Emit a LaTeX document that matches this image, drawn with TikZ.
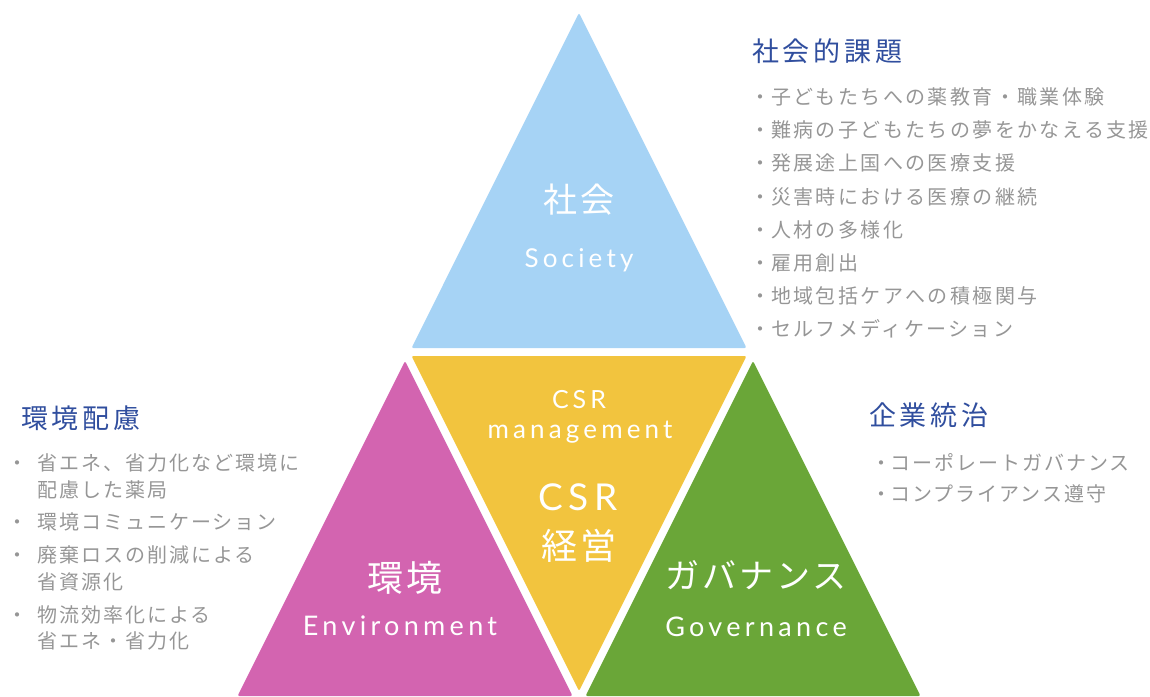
\documentclass[tikz,border=0pt]{standalone}
\usepackage{fontspec}
\setmainfont{Noto Sans CJK JP}
\newfontfamily\jpL[LetterSpace=10]{Noto Sans CJK JP}
\newfontfamily\jpW[LetterSpace=12]{Noto Sans CJK JP}
\newfontfamily\jpH[LetterSpace=14]{Noto Sans CJK JP}
\newfontfamily\jpT[LetterSpace=8]{Noto Sans CJK JP}
\newfontfamily\latT[LetterSpace=16]{Lato}
\definecolor{skyb}{RGB}{166,211,245}
\definecolor{csry}{RGB}{242,196,62}
\definecolor{envp}{RGB}{211,100,176}
\definecolor{govg}{RGB}{106,166,56}
\definecolor{headb}{RGB}{48,78,158}
\definecolor{txtg}{RGB}{150,150,150}
\tikzset{
  tri/.style={rounded corners=2pt},
  jitem/.style={anchor=base west, inner sep=0pt, text=txtg, font=\jpL\fontsize{20pt}{24pt}\selectfont},
  jitemw/.style={jitem, font=\jpW\fontsize{20pt}{24pt}\selectfont},
  jbul/.style={anchor=base, inner sep=0pt, text=txtg, font=\jpL\fontsize{20pt}{24pt}\selectfont},
  jhead/.style={anchor=base west, inner sep=0pt, text=headb, font=\jpH\fontsize{27pt}{30pt}\selectfont},
  tlabj/.style={anchor=base, inner sep=0pt, text=white},
  tlabl/.style={anchor=base, inner sep=0pt, text=white},
}
\begin{document}
\begin{tikzpicture}[x=1pt,y=-1pt]
\useasboundingbox (0,0) rectangle (1150,696);
\clip (0,0) rectangle (1150,696);
% triangles
\fill[skyb,tri] (579,12.9) -- (746.5,348) -- (411.5,348) -- cycle;
\fill[csry,tri] (411.5,356) -- (746.5,356) -- (579,691) -- cycle;
\fill[envp,tri] (405,361) -- (572.5,696) -- (237.5,696) -- cycle;
\fill[govg,tri] (753,361) -- (920.5,696) -- (585.5,696) -- cycle;
% labels in triangles
\node[tlabj, font=\jpT\fontsize{34pt}{36pt}\selectfont] (soc) at (579,212) {社会};
\node[tlabl, font=\latT\fontsize{26pt}{28pt}\selectfont] (socE) at (579,267) {Society};
\node[tlabl, font=\latT\fontsize{25pt}{28pt}\selectfont] (csr1) at (579,408) {CSR};
\node[tlabl, font=\latT\fontsize{26pt}{28pt}\selectfont] (mgmt) at (580,438) {management};
\node[tlabl, font=\latT\fontsize{37pt}{40pt}\selectfont] (csr2) at (578,510) {CSR};
\node[tlabj, font=\jpT\fontsize{36pt}{38pt}\selectfont] (keiei) at (579,559) {経営};
\node[tlabj, font=\jpT\fontsize{36pt}{38pt}\selectfont] (kankyo) at (405,591) {環境};
\node[tlabl, font=\latT\fontsize{27pt}{28pt}\selectfont] (envE) at (400,635) {Environment};
\node[tlabj, font=\jpT\fontsize{34pt}{36pt}\selectfont] (gov) at (756,588) {ガバナンス};
\node[tlabl, font=\latT\fontsize{27pt}{28pt}\selectfont] (govE) at (756,636) {Governance};
% society list
\node[jhead] (h1) at (752,61) {社会的課題};
\foreach \t [count=\i from 0] in {子どもたちへの薬教育・職業体験,難病の子どもたちの夢をかなえる支援,発展途上国への医療支援,災害時における医療の継続,人材の多様化,雇用創出,地域包括ケアへの積極関与,セルフメディケーション}{
  \node[jbul] (sb\i) at (760,104.6+33.14*\i) {・};
  \node[jitemw] (s\i) at (771,104.6+33.14*\i) {\t};
}
% environment list
\node[jhead] (h2) at (21,428) {環境配慮};
\node[jbul] (eb1) at (17,470.6) {・};
\node[jitem] (e1) at (37,470.6) {省エネ、省力化など環境に};
\node[jitem] (e1b) at (37,497.6) {配慮した薬局};
\node[jbul] (eb2) at (17,529.6) {・};
\node[jitem] (e2) at (37,529.6) {環境コミュニケーション};
\node[jbul] (eb3) at (17,562.6) {・};
\node[jitem] (e3) at (37,562.6) {廃棄ロスの削減による};
\node[jitem] (e3b) at (37,589.6) {省資源化};
\node[jbul] (eb4) at (17,622.6) {・};
\node[jitem] (e4) at (37,622.6) {物流効率化による};
\node[jitem] (e4b) at (37,648.6) {省エネ・省力化};
% governance list
\node[jhead] (h3) at (869,425) {企業統治};
\node[jbul] (gb1) at (881,470.6) {・};
\node[jitem] (g1) at (890,470.6) {コーポレートガバナンス};
\node[jbul] (gb2) at (881,501.6) {・};
\node[jitem] (g2) at (890,501.6) {コンプライアンス遵守};
\end{tikzpicture}
\end{document}
